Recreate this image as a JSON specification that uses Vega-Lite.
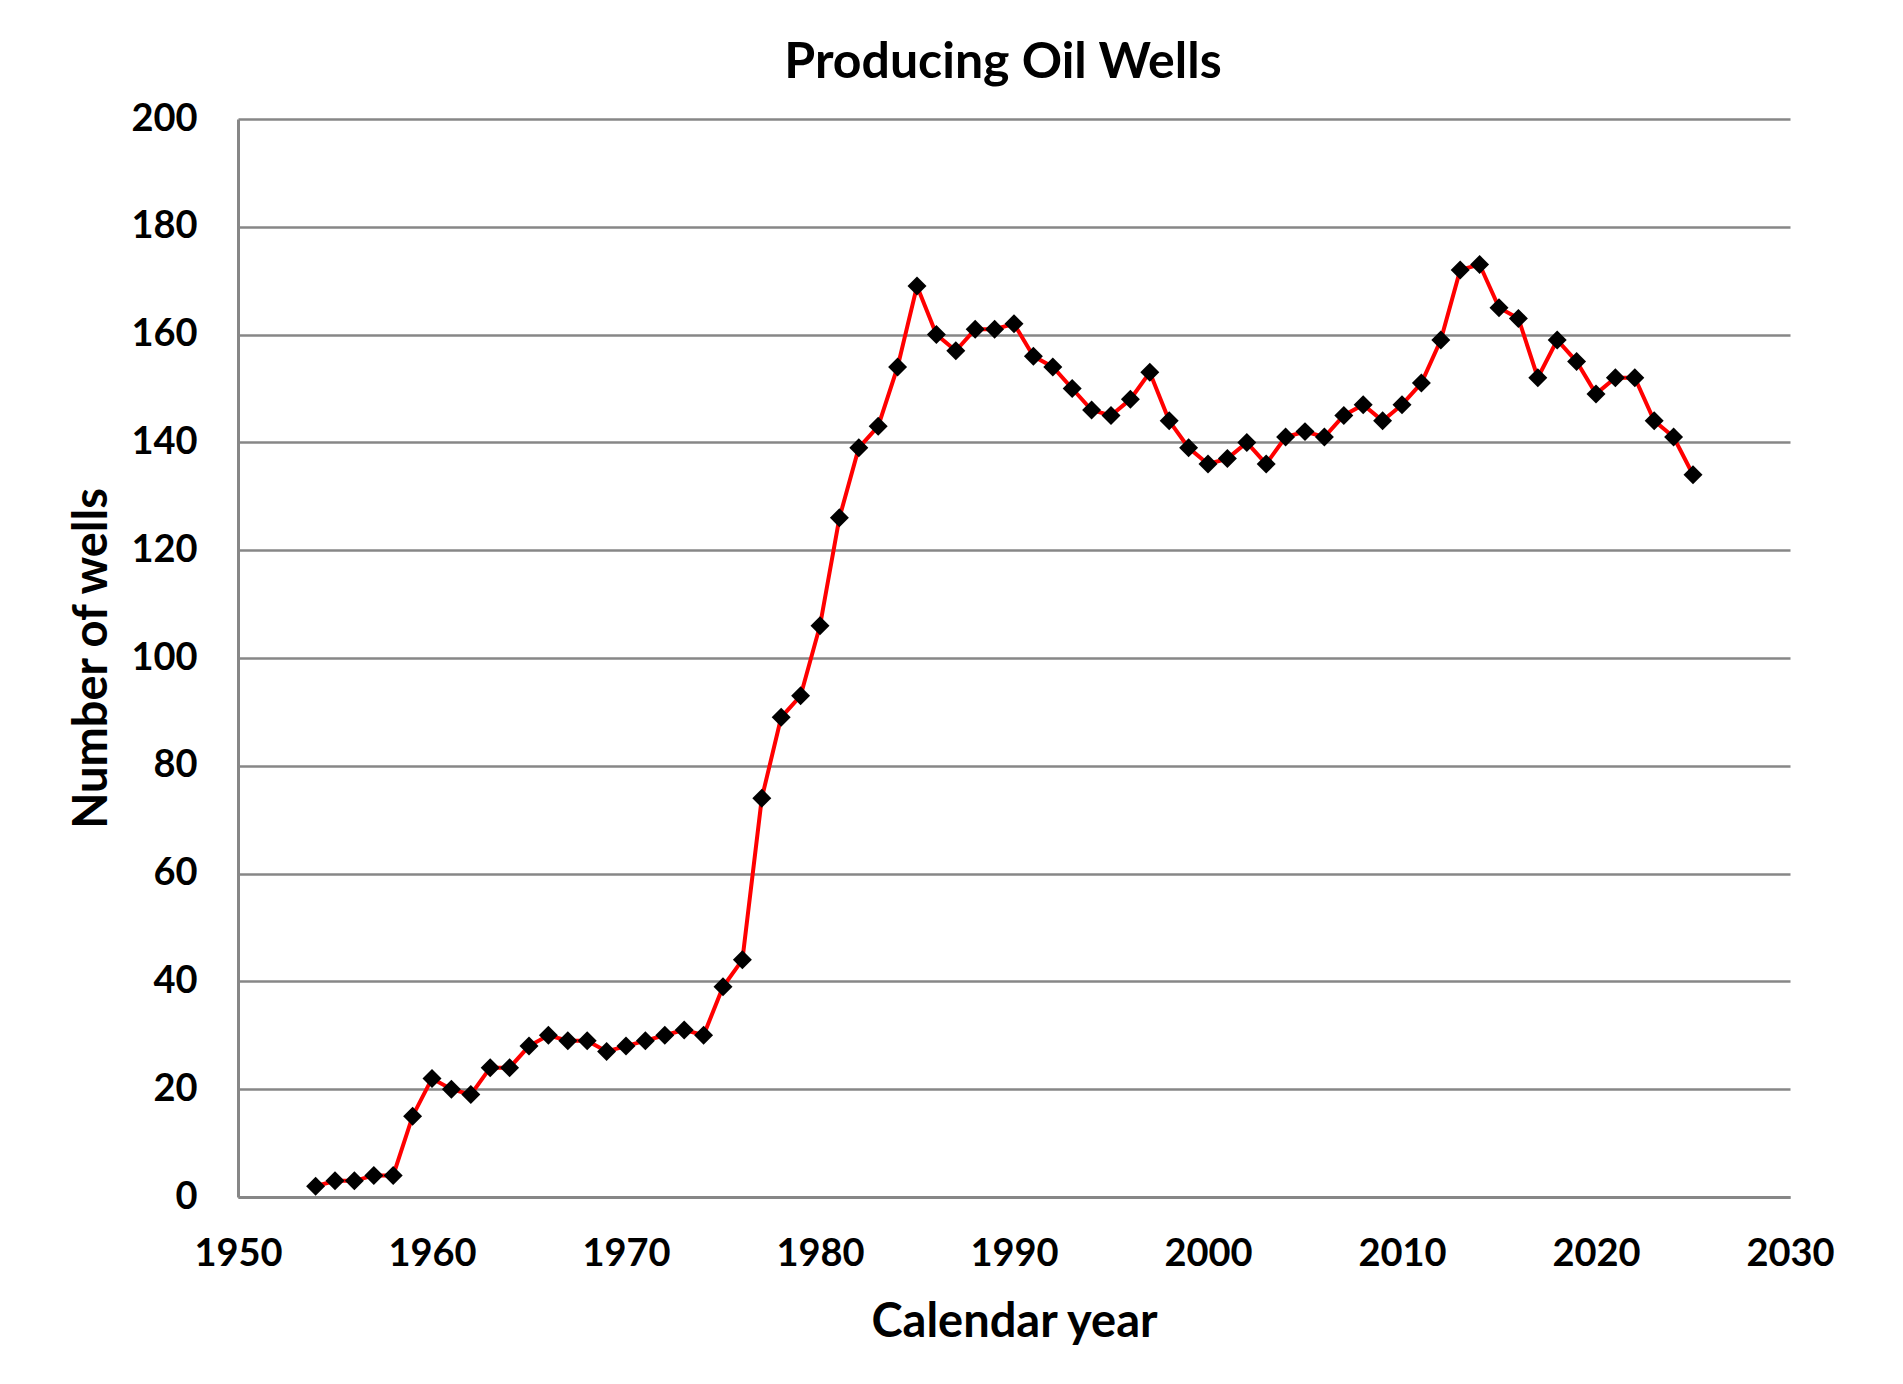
{
  "$schema": "https://vega.github.io/schema/vega-lite/v6.json",
  "width": 1552,
  "height": 1078,
  "autosize": "none",
  "padding": {"left": 238, "top": 119, "right": 113, "bottom": 187},
  "background": "white",
  "title": {
    "text": "Producing Oil Wells",
    "font": "Lato",
    "fontWeight": "bold",
    "fontSize": 50,
    "color": "black",
    "anchor": "middle",
    "offset": 12,
    "dx": -11
  },
  "data": {
    "values": [
      {"year": 1954, "wells": 2}, {"year": 1955, "wells": 3}, {"year": 1956, "wells": 3},
      {"year": 1957, "wells": 4}, {"year": 1958, "wells": 4}, {"year": 1959, "wells": 15},
      {"year": 1960, "wells": 22}, {"year": 1961, "wells": 20}, {"year": 1962, "wells": 19},
      {"year": 1963, "wells": 24}, {"year": 1964, "wells": 24}, {"year": 1965, "wells": 28},
      {"year": 1966, "wells": 30}, {"year": 1967, "wells": 29}, {"year": 1968, "wells": 29},
      {"year": 1969, "wells": 27}, {"year": 1970, "wells": 28}, {"year": 1971, "wells": 29},
      {"year": 1972, "wells": 30}, {"year": 1973, "wells": 31}, {"year": 1974, "wells": 30},
      {"year": 1975, "wells": 39}, {"year": 1976, "wells": 44}, {"year": 1977, "wells": 74},
      {"year": 1978, "wells": 89}, {"year": 1979, "wells": 93}, {"year": 1980, "wells": 106},
      {"year": 1981, "wells": 126}, {"year": 1982, "wells": 139}, {"year": 1983, "wells": 143},
      {"year": 1984, "wells": 154}, {"year": 1985, "wells": 169}, {"year": 1986, "wells": 160},
      {"year": 1987, "wells": 157}, {"year": 1988, "wells": 161}, {"year": 1989, "wells": 161},
      {"year": 1990, "wells": 162}, {"year": 1991, "wells": 156}, {"year": 1992, "wells": 154},
      {"year": 1993, "wells": 150}, {"year": 1994, "wells": 146}, {"year": 1995, "wells": 145},
      {"year": 1996, "wells": 148}, {"year": 1997, "wells": 153}, {"year": 1998, "wells": 144},
      {"year": 1999, "wells": 139}, {"year": 2000, "wells": 136}, {"year": 2001, "wells": 137},
      {"year": 2002, "wells": 140}, {"year": 2003, "wells": 136}, {"year": 2004, "wells": 141},
      {"year": 2005, "wells": 142}, {"year": 2006, "wells": 141}, {"year": 2007, "wells": 145},
      {"year": 2008, "wells": 147}, {"year": 2009, "wells": 144}, {"year": 2010, "wells": 147},
      {"year": 2011, "wells": 151}, {"year": 2012, "wells": 159}, {"year": 2013, "wells": 172},
      {"year": 2014, "wells": 173}, {"year": 2015, "wells": 165}, {"year": 2016, "wells": 163},
      {"year": 2017, "wells": 152}, {"year": 2018, "wells": 159}, {"year": 2019, "wells": 155},
      {"year": 2020, "wells": 149}, {"year": 2021, "wells": 152}, {"year": 2022, "wells": 152},
      {"year": 2023, "wells": 144}, {"year": 2024, "wells": 141}, {"year": 2025, "wells": 134}
    ]
  },
  "encoding": {
    "x": {
      "field": "year",
      "type": "quantitative",
      "scale": {"domain": [1950, 2030], "nice": false, "zero": false},
      "axis": {
        "title": "Calendar year",
        "values": [1950, 1960, 1970, 1980, 1990, 2000, 2010, 2020, 2030],
        "format": "d",
        "grid": false,
        "ticks": false,
        "domainColor": "#878787",
        "domainWidth": 3,
        "labelFont": "Lato",
        "labelFontWeight": "bold",
        "labelFontSize": 38,
        "labelColor": "black",
        "labelPadding": 38,
        "labelFlush": false,
        "labelOverlap": false,
        "titleFont": "Lato",
        "titleFontWeight": "bold",
        "titleFontSize": 47,
        "titleColor": "black",
        "titlePadding": 26
      }
    },
    "y": {
      "field": "wells",
      "type": "quantitative",
      "scale": {"domain": [0, 200], "nice": false},
      "axis": {
        "title": "Number of wells",
        "values": [0, 20, 40, 60, 80, 100, 120, 140, 160, 180, 200],
        "grid": true,
        "gridColor": "#878787",
        "gridWidth": 2.5,
        "ticks": false,
        "domainColor": "#878787",
        "domainWidth": 3,
        "labelFont": "Lato",
        "labelFontWeight": "bold",
        "labelFontSize": 38,
        "labelColor": "black",
        "labelPadding": 41,
        "labelFlush": false,
        "labelOverlap": false,
        "titleFont": "Lato",
        "titleFontWeight": "bold",
        "titleFontSize": 47,
        "titleColor": "black",
        "titlePadding": 14
      }
    }
  },
  "layer": [
    {"mark": {"type": "line", "color": "#ff0000", "strokeWidth": 4}},
    {"mark": {"type": "point", "shape": "diamond", "filled": true, "color": "black", "opacity": 1, "size": 360}}
  ],
  "config": {"view": {"stroke": null}}
}
